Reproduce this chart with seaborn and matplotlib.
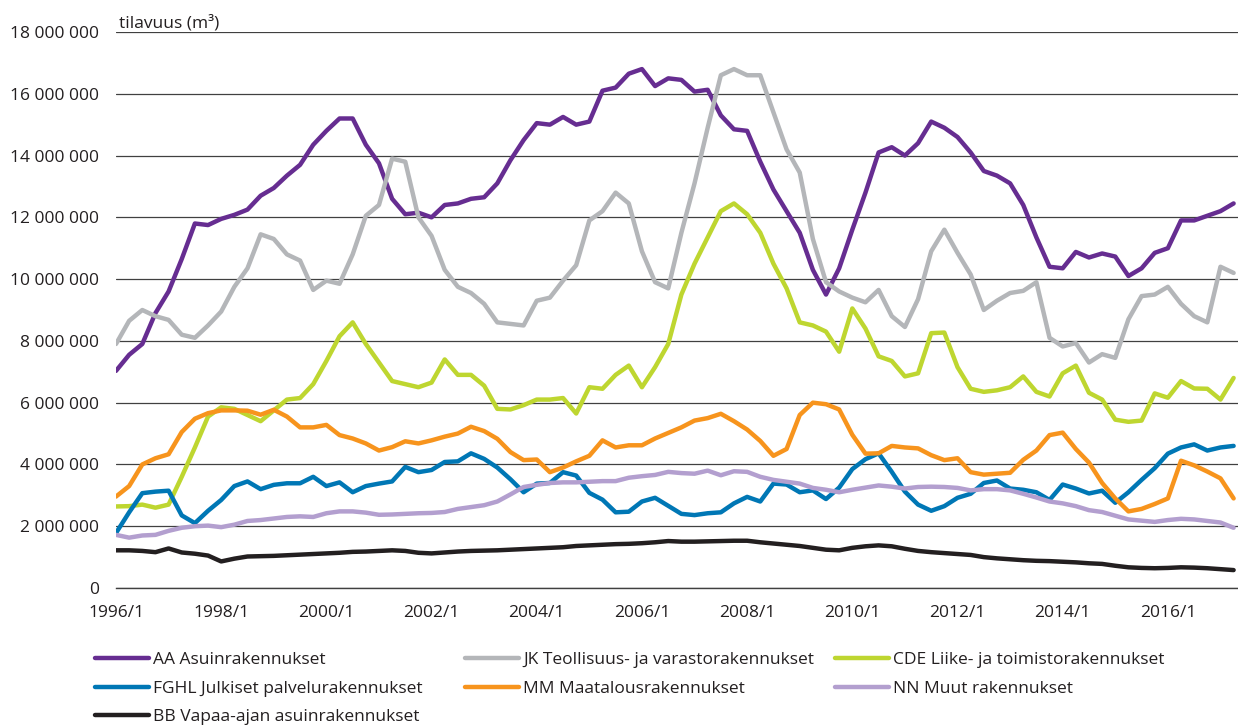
import pandas as pd
import seaborn as sns
import matplotlib.pyplot as plt
from matplotlib.lines import Line2D
from matplotlib.ticker import FuncFormatter

# Kuukausi-indeksi alkaen 1996/1 (neljännesvuosittain luettu kuvasta)
months = list(range(0, 256, 3))

# Arvot miljoonina kuutiometreinä
aa = [7.03, 7.55, 7.9, 8.9, 9.6, 10.65, 11.8, 11.75,
      11.95, 12.08, 12.25, 12.7, 12.95, 13.35, 13.7, 14.35,
      14.8, 15.2, 15.2, 14.35, 13.75, 12.6, 12.1, 12.15,
      12.0, 12.4, 12.45, 12.6, 12.65, 13.1, 13.85, 14.5,
      15.05, 15.0, 15.25, 15.0, 15.1, 16.1, 16.2, 16.65,
      16.8, 16.25, 16.5, 16.45, 16.07, 16.13, 15.3, 14.85,
      14.8, 13.8, 12.9, 12.2, 11.5, 10.3, 9.5, 10.35,
      11.6, 12.8, 14.1, 14.27, 14.0, 14.4, 15.1, 14.9,
      14.6, 14.1, 13.5, 13.35, 13.1, 12.4, 11.35, 10.4,
      10.35, 10.88, 10.7, 10.83, 10.73, 10.1, 10.35, 10.85,
      11.0, 11.9, 11.9, 12.05, 12.2, 12.45]
jk = [7.9, 8.65, 9.0, 8.8, 8.68, 8.2, 8.1, 8.5,
      8.95, 9.75, 10.35, 11.45, 11.3, 10.8, 10.6, 9.65,
      9.95, 9.85, 10.8, 12.05, 12.4, 13.9, 13.8, 12.0,
      11.4, 10.3, 9.75, 9.55, 9.2, 8.6, 8.55, 8.5,
      9.3, 9.4, 9.95, 10.45, 11.9, 12.2, 12.8, 12.45,
      10.9, 9.9, 9.7, 11.5, 13.1, 14.9, 16.6, 16.8,
      16.6, 16.6, 15.4, 14.2, 13.45, 11.3, 9.9, 9.6,
      9.4, 9.25, 9.65, 8.8, 8.45, 9.35, 10.9, 11.6,
      10.85, 10.15, 9.0, 9.3, 9.55, 9.62, 9.9, 8.1,
      7.82, 7.93, 7.3, 7.57, 7.45, 8.7, 9.45, 9.5,
      9.75, 9.2, 8.8, 8.6, 10.4, 10.2]
cde = [2.64, 2.65, 2.7, 2.6, 2.7, 3.6, 4.55, 5.55,
       5.85, 5.8, 5.6, 5.4, 5.75, 6.1, 6.15, 6.6,
       7.35, 8.15, 8.6, 7.9, 7.3, 6.7, 6.6, 6.5,
       6.65, 7.4, 6.9, 6.9, 6.55, 5.8, 5.78, 5.92,
       6.1, 6.1, 6.15, 5.65, 6.5, 6.45, 6.9, 7.2,
       6.5, 7.15, 7.9, 9.5, 10.5, 11.35, 12.2, 12.45,
       12.1, 11.5, 10.5, 9.7, 8.6, 8.5, 8.3, 7.65,
       9.05, 8.4, 7.5, 7.35, 6.85, 6.95, 8.25, 8.27,
       7.15, 6.45, 6.35, 6.4, 6.5, 6.85, 6.35, 6.2,
       6.95, 7.2, 6.32, 6.1, 5.45, 5.38, 5.42, 6.3,
       6.16, 6.7, 6.46, 6.45, 6.1, 6.8]
fghl = [1.78, 2.45, 3.07, 3.12, 3.15, 2.35, 2.1, 2.5,
        2.85, 3.3, 3.45, 3.2, 3.34, 3.39, 3.39, 3.6,
        3.3, 3.42, 3.1, 3.3, 3.38, 3.45, 3.92, 3.75,
        3.82, 4.08, 4.1, 4.36, 4.18, 3.9, 3.52, 3.1,
        3.38, 3.4, 3.75, 3.64, 3.08, 2.86, 2.45, 2.47,
        2.8, 2.92, 2.66, 2.4, 2.36, 2.42, 2.45, 2.74,
        2.95, 2.8, 3.38, 3.35, 3.1, 3.16, 2.88, 3.25,
        3.85, 4.17, 4.36, 3.76, 3.12, 2.7, 2.5, 2.65,
        2.92, 3.05, 3.4, 3.48, 3.22, 3.18, 3.1, 2.85,
        3.35, 3.22, 3.06, 3.15, 2.76, 3.1, 3.5, 3.88,
        4.35, 4.55, 4.65, 4.45, 4.55, 4.6]
mm = [2.96, 3.3, 4.0, 4.2, 4.33, 5.05, 5.48, 5.66,
      5.75, 5.75, 5.74, 5.61, 5.77, 5.55, 5.2, 5.2,
      5.28, 4.95, 4.84, 4.68, 4.45, 4.56, 4.75, 4.68,
      4.78, 4.9, 5.0, 5.22, 5.08, 4.83, 4.4, 4.14,
      4.16, 3.75, 3.9, 4.1, 4.28, 4.78, 4.55, 4.62,
      4.62, 4.84, 5.02, 5.2, 5.42, 5.5, 5.64, 5.4,
      5.13, 4.76, 4.28, 4.5, 5.6, 6.0, 5.95, 5.78,
      4.96, 4.35, 4.36, 4.6, 4.55, 4.52, 4.3, 4.14,
      4.2, 3.75, 3.67, 3.7, 3.73, 4.15, 4.45, 4.95,
      5.03, 4.5, 4.06, 3.4, 2.9, 2.48, 2.56, 2.72,
      2.9, 4.12, 3.97, 3.77, 3.55, 2.9]
nn = [1.72, 1.63, 1.7, 1.72, 1.85, 1.95, 2.0, 2.02,
      1.97, 2.05, 2.17, 2.2, 2.25, 2.3, 2.32, 2.3,
      2.42, 2.48, 2.48, 2.44, 2.37, 2.38, 2.4, 2.42,
      2.43, 2.46, 2.56, 2.62, 2.68, 2.8, 3.03, 3.27,
      3.34, 3.4, 3.42, 3.42, 3.44, 3.46, 3.46, 3.57,
      3.62, 3.66, 3.76, 3.72, 3.7, 3.8, 3.65, 3.78,
      3.76, 3.6, 3.5, 3.44, 3.38, 3.24, 3.18, 3.1,
      3.18, 3.25, 3.32, 3.28, 3.22, 3.27, 3.28, 3.27,
      3.24, 3.16, 3.2, 3.2, 3.16, 3.05, 2.93, 2.8,
      2.74, 2.65, 2.52, 2.46, 2.34, 2.22, 2.18, 2.14,
      2.2, 2.24, 2.22, 2.17, 2.12, 1.95]
bb = [1.22, 1.22, 1.2, 1.16, 1.28, 1.15, 1.11, 1.05,
      0.86, 0.95, 1.02, 1.03, 1.04, 1.06, 1.08, 1.1,
      1.12, 1.14, 1.17, 1.18, 1.2, 1.22, 1.2, 1.14,
      1.12, 1.15, 1.18, 1.2, 1.21, 1.22, 1.24, 1.26,
      1.28, 1.3, 1.32, 1.36, 1.38, 1.4, 1.42, 1.43,
      1.45, 1.48, 1.52, 1.5, 1.5, 1.51, 1.52, 1.53,
      1.53, 1.48, 1.44, 1.4, 1.36, 1.3, 1.24, 1.22,
      1.3, 1.35, 1.38, 1.35, 1.27, 1.2, 1.16, 1.13,
      1.1, 1.07, 1.0, 0.96, 0.93, 0.9, 0.88, 0.87,
      0.85, 0.83, 0.8, 0.78, 0.72, 0.67, 0.65, 0.64,
      0.65, 0.67, 0.66, 0.64, 0.61, 0.58]

names = ['AA Asuinrakennukset', 'JK Teollisuus- ja varastorakennukset',
         'CDE Liike- ja toimistorakennukset', 'FGHL Julkiset palvelurakennukset',
         'MM Maatalousrakennukset', 'NN Muut rakennukset',
         'BB Vapaa-ajan asuinrakennukset']
colors = ['#662d91', '#b4b6b9', '#bed630', '#0077b5', '#f7941d', '#b39fcf', '#231f20']
series = [aa, jk, cde, fghl, mm, nn, bb]

tick_months = list(range(0, 241, 24))
tick_labels = ['1996/1', '1998/1', '2000/1', '2002/1', '2004/1', '2006/1',
               '2008/1', '2010/1', '2012/1', '2014/1', '2016/1']

rows = []
for name, vals in zip(names, series):
    for m, v in zip(months, vals):
        rows.append({'kk': m, 'tilavuus': v * 1e6, 'sarja': name})
df = pd.DataFrame(rows)

sns.set_style("white")
plt.rcParams['font.family'] = ['Open Sans', 'DejaVu Sans']
text_color = '#231f20'
grid_color = '#404040'

fig = plt.figure(figsize=(12.38, 7.25), dpi=100)
ax = fig.add_axes([116 / 1238, 1 - 588 / 725, (1238 - 116) / 1238, 556 / 725])

sns.lineplot(data=df, x='kk', y='tilavuus', hue='sarja', hue_order=names,
             palette=colors, linewidth=3.2, legend=False, errorbar=None, ax=ax)

ax.set_xlim(0, 256)
ax.set_ylim(0, 18e6)
ax.set_yticks([i * 2e6 for i in range(10)])
ax.yaxis.set_major_formatter(FuncFormatter(lambda v, p: f"{int(v):,}".replace(",", " ")))
ax.yaxis.grid(True, color=grid_color, linewidth=0.9)
ax.set_axisbelow(True)

ax.set_xticks(tick_months)
ax.set_xticklabels(tick_labels)
ax.set_xticks(list(range(12, 256, 24)), minor=True)

for s in ['top', 'right', 'left']:
    ax.spines[s].set_visible(False)
ax.spines['bottom'].set_color(grid_color)
ax.spines['bottom'].set_linewidth(1)

ax.tick_params(axis='y', length=0, pad=12, labelsize=12.5, labelcolor=text_color)
ax.tick_params(axis='x', which='both', direction='out', length=3.5, width=1,
               color=grid_color, pad=9, labelsize=12.5, labelcolor=text_color)
ax.set_xlabel('')
ax.set_ylabel('')

fig.text(119 / 1238, 1 - 27 / 725, 'tilavuus (m³)', fontsize=12.5, color=text_color,
         ha='left', va='baseline')

# Selite kolmessa sarakkeessa
handles = [Line2D([0], [0], color=c, linewidth=3.2) for c in colors]
groups = [([0, 3, 6], 95), ([1, 4], 465), ([2, 5], 835)]
for idx, xpix in groups:
    fig.legend([handles[i] for i in idx], [names[i] for i in idx],
               loc='upper left', bbox_to_anchor=(xpix / 1238, 1 - 652 / 725),
               bbox_transform=fig.transFigure, frameon=False, fontsize=12.5,
               handlelength=3.1, handletextpad=0.25, labelspacing=0.72,
               borderpad=0, borderaxespad=0, labelcolor=text_color)

fig.savefig('out.png', dpi=100)
